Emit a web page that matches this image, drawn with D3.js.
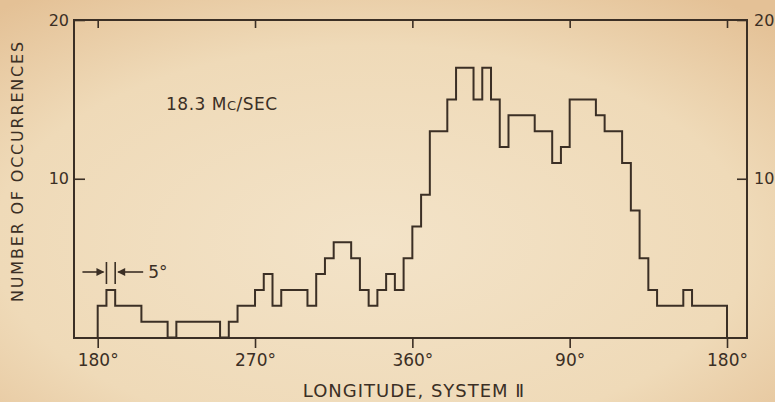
<!DOCTYPE html>
<html lang="en">
<head>
    <meta charset="UTF-8">
    <script src="https://cdn.jsdelivr.net/npm/d3@7"></script>
    <title>18.3 Mc/sec occurrences</title>
    <style>
        body { margin: 0; background: #efdcbc; }
        svg { display: block; }
        text { font-family: 'DejaVu Sans', 'Liberation Sans', sans-serif; fill: #3b2f25; }
        .tick line { stroke: #3b2f25; stroke-width: 1.6px; }
    </style>
</head>
<body>
    <div id="chart"></div>

    <script>
        const width = 775;
        const height = 402;

        // histogram: 5 degree bins, longitude (System II) running 180 -> 360/0 -> 180
        const binStart = d3.range(180, 540, 5);
        const counts = [
            2, 3, 2, 2, 2, 1, 1, 1,           // 180-215
            0, 1, 1, 1, 1, 1, 0, 1, 2, 2,     // 220-265
            3, 4, 2, 3, 3, 3, 2, 4, 5, 6,     // 270-315
            6, 5, 3, 2, 3, 4, 3, 5,           // 320-355
            7, 9, 13, 13, 15, 17, 17, 15, 17, 15,   // 0-45
            12, 14, 14, 14, 13, 13, 11, 12, 15, 15, // 50-95
            15, 14, 13, 13, 11, 8, 5, 3, 2, 2,      // 100-145
            2, 3, 2, 2, 2, 2                        // 150-175
        ];

        const xTicks = [180, 270, 360, 450, 540];
        const xTickLabels = ["180°", "270°", "360°", "90°", "180°"];
        const yTicks = [10, 20];

        const frame = { left: 74, right: 747, top: 20, bottom: 338 };

        const svg = d3.select("#chart").append("svg")
            .attr("width", width)
            .attr("height", height);

        // aged paper background
        const grad = svg.append("defs").append("radialGradient")
            .attr("id", "paper").attr("cx", "48%").attr("cy", "60%").attr("r", "75%");
        grad.append("stop").attr("offset", "0%").attr("stop-color", "#f3e3c8");
        grad.append("stop").attr("offset", "65%").attr("stop-color", "#efdab8");
        grad.append("stop").attr("offset", "100%").attr("stop-color", "#e4c196");
        svg.append("rect").attr("width", width).attr("height", height).attr("fill", "url(#paper)");

        const x = d3.scaleLinear().domain([180, 540]).range([97.7, 727]);
        const y = d3.scaleLinear().domain([0, 20]).range([337.5, frame.top]);

        // frame
        svg.append("rect")
            .attr("x", frame.left).attr("y", frame.top)
            .attr("width", frame.right - frame.left)
            .attr("height", frame.bottom - frame.top)
            .attr("fill", "none")
            .attr("stroke", "#3b2f25")
            .attr("stroke-width", 2);

        // bottom axis: ticks outward with labels
        const bottomAxis = svg.append("g")
            .attr("transform", `translate(0,${frame.bottom})`)
            .call(d3.axisBottom(x).tickValues(xTicks).tickSize(10).tickPadding(6)
                .tickFormat((d, i) => xTickLabels[i]));
        bottomAxis.select(".domain").remove();
        bottomAxis.selectAll("text").attr("font-size", 17).style("font-family", "'DejaVu Sans', sans-serif");

        // top axis: short inward ticks
        const topAxis = svg.append("g")
            .attr("transform", `translate(0,${frame.top})`)
            .call(d3.axisTop(x).tickValues(xTicks).tickSize(-8).tickFormat(""));
        topAxis.select(".domain").remove();

        // left and right axes
        const leftAxis = svg.append("g")
            .attr("transform", `translate(${frame.left},0)`)
            .call(d3.axisLeft(y).tickValues(yTicks).tickSize(-11).tickPadding(5));
        leftAxis.select(".domain").remove();
        leftAxis.selectAll("text").attr("font-size", 16).style("font-family", "'DejaVu Sans', sans-serif");

        const rightAxis = svg.append("g")
            .attr("transform", `translate(${frame.right},0)`)
            .call(d3.axisRight(y).tickValues(yTicks).tickSize(-10).tickPadding(7));
        rightAxis.select(".domain").remove();
        rightAxis.selectAll("text").attr("font-size", 16).style("font-family", "'DejaVu Sans', sans-serif");

        // histogram outline
        const pts = [[binStart[0], 0]];
        binStart.forEach((b, i) => pts.push([b, counts[i]]));
        pts.push([540, counts[counts.length - 1]]);
        pts.push([540, 0]);

        const line = d3.line()
            .x(d => x(d[0]))
            .y(d => y(d[1]))
            .curve(d3.curveStepAfter);

        svg.append("path")
            .datum(pts)
            .attr("fill", "none")
            .attr("stroke", "#3b2f25")
            .attr("stroke-width", 2)
            .attr("d", line);

        // 5 degree bin width marker
        const ink = "#3b2f25";
        const my = 272;
        const mark = svg.append("g").attr("stroke", ink).attr("stroke-width", 1.6);
        [185, 190].forEach(b => {
            mark.append("line").attr("x1", x(b)).attr("x2", x(b)).attr("y1", 262).attr("y2", 284);
        });
        mark.append("line").attr("x1", x(185) - 24).attr("x2", x(185) - 3).attr("y1", my).attr("y2", my);
        mark.append("line").attr("x1", x(190) + 28).attr("x2", x(190) + 3).attr("y1", my).attr("y2", my);
        svg.append("path")
            .attr("d", `M${x(185) - 2},${my} l-8,-4 l0,8 z`)
            .attr("fill", ink);
        svg.append("path")
            .attr("d", `M${x(190) + 2},${my} l8,-4 l0,8 z`)
            .attr("fill", ink);
        svg.append("text")
            .attr("x", x(190) + 33).attr("y", my)
            .attr("dy", "0.36em")
            .attr("font-size", 17)
            .text("5°");

        // frequency label
        const freq = svg.append("text")
            .attr("x", 166).attr("y", 110)
            .attr("font-size", 17)
            .attr("letter-spacing", 0.5);
        freq.append("tspan").text("18.3 M");
        freq.append("tspan").attr("font-size", 13).text("C");
        freq.append("tspan").text("/SEC");

        // axis titles
        svg.append("text")
            .attr("x", 414).attr("y", 397)
            .attr("text-anchor", "middle")
            .attr("font-size", 18)
            .attr("letter-spacing", 1)
            .text("LONGITUDE, SYSTEM Ⅱ");

        svg.append("text")
            .attr("transform", "translate(23,171) rotate(-90)")
            .attr("text-anchor", "middle")
            .attr("font-size", 16)
            .attr("letter-spacing", 1.8)
            .text("NUMBER OF OCCURRENCES");
    </script>
</body>
</html>
